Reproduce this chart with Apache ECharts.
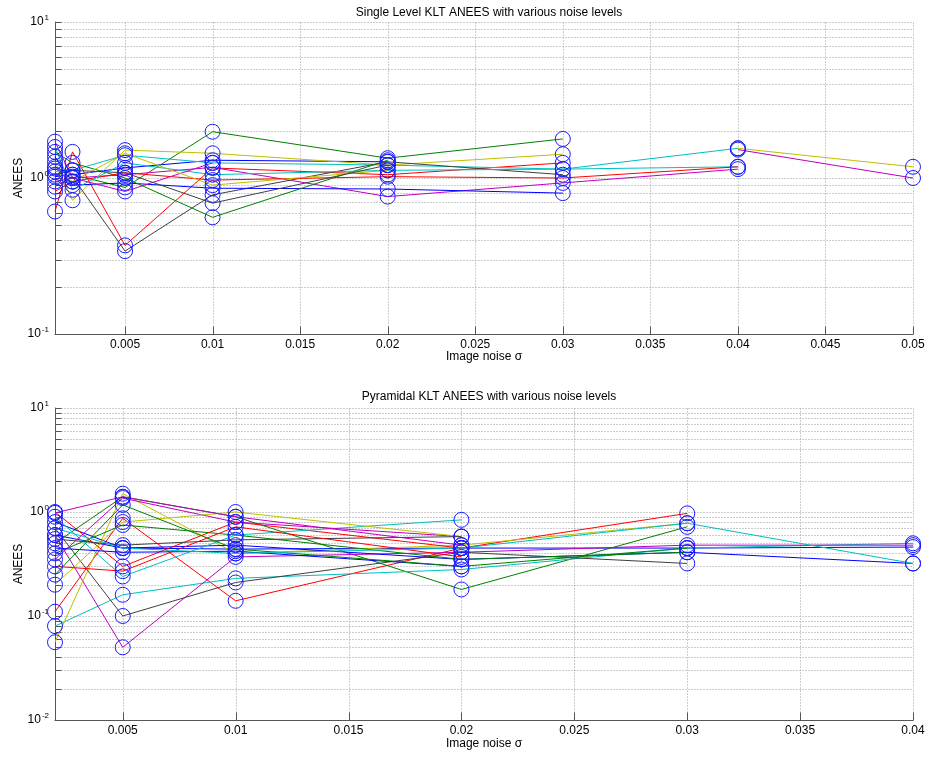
<!DOCTYPE html>
<html><head><meta charset="utf-8">
<script src="https://cdn.jsdelivr.net/npm/echarts@6/dist/echarts.min.js"></script>
<style>html,body{margin:0;padding:0;background:#fff}#c{width:929px;height:757px}</style>
</head><body><div id="c"></div>
<script>
// ---------- DATA ----------
const topTitle = 'Single Level KLT ANEES with various noise levels';
const bottomTitle = 'Pyramidal KLT ANEES with various noise levels';
const xName = 'Image noise \u03c3';
const yName = 'ANEES';

const topNoise = [0.001, 0.002, 0.005, 0.01, 0.02, 0.03, 0.04, 0.05];
const topXTicks = [0.005, 0.01, 0.015, 0.02, 0.025, 0.03, 0.035, 0.04, 0.045, 0.05];
const topYTicks = [0.1, 1, 10];

const top01 = [1.02, 1.05, 1.16, 1.30, 1.27];
const top02 = [1.18, 1.05, 0.87, 1.98, 1.34, 1.78];
const top03 = [0.61, 1.47, 0.37, 1.16, 1.05, 1.25];
const top04 = [1.10, 1.12, 1.40, 1.25, 1.21, 1.14, 1.18];
const top05 = [0.95, 1.00, 1.05, 1.17, 0.76, 0.93, 1.14];
const top06 = [1.27, 0.72, 1.51, 1.44, 1.21, 1.42];
const top07 = [0.88, 1.02, 0.34, 0.78, 1.27, 1.05];
const top08 = [1.37, 0.90, 0.93, 0.86, 0.85, 0.80];
const top09 = [1.47, 1.25, 1.00, 0.56, 1.30];
const top10 = [0.82, 0.95, 1.08, 0.97, 1.02, 1.00, 1.18];
const top11 = [1.58, 0.84, 1.25, 1.05, 1.12, 1.14, 1.55];
const top12 = [1.71, 1.00, 0.82, 1.25];
const top13 = [1.15, 0.95, 1.44, 0.90, 1.12];
const top14 = [1.05, 1.12, 1.08, 0.69, 1.21];
const top15 = [null, null, null, null, null, null, 1.55, 1.18];
const top16 = [null, null, null, null, null, null, 1.52, 1.00];
const topRuns = [top01, top02, top03, top04, top05, top06, top07, top08,
                 top09, top10, top11, top12, top13, top14, top15, top16];

const botNoise = [0.002, 0.005, 0.01, 0.02, 0.03, 0.04];
const botXTicks = [0.005, 0.01, 0.015, 0.02, 0.025, 0.03, 0.035, 0.04];
const botYTicks = [0.01, 0.1, 1, 10];

const bot01 = [0.60, 0.45, 0.44, 0.45, 0.45, 0.46];
const bot02 = [0.50, 1.40, 0.90, 0.18, 0.72];
const bot03 = [0.11, 0.87, 0.14, 0.45, 0.97];
const bot04 = [0.08, 0.16, 0.23, 0.28, 0.45, 0.50];
const bot05 = [0.60, 0.05, 0.37, 0.41, 0.48, 0.48];
const bot06 = [0.056, 1.50, 0.40, 0.48, 0.78];
const bot07 = [0.70, 0.10, 0.21, 0.41, 0.32];
const bot08 = [0.80, 0.45, 0.48, 0.35, 0.41, 0.32];
const bot09 = [0.40, 0.75, 0.60, 0.35, 0.41];
const bot10 = [1.00, 0.30, 0.80, 0.45];
const bot11 = [0.90, 0.24, 0.60, 0.84];
const bot12 = [0.35, 1.36, 0.80, 0.58];
const bot13 = [0.20, 0.80, 1.00, 0.58];
const bot14 = [0.55, 0.48, 0.54, 0.58];
const bot15 = [0.45, 0.41, 0.42, 0.30];
const bot16 = [0.25, 1.17, 0.44, 0.30, 0.45];
const bot17 = [0.30, 0.27, 0.72, 0.37];
const bot18 = [0.70, 0.45, 0.40, 0.45, 0.78, 0.32];
const bot19 = [0.98, 1.40, 0.90, 0.48];
const botRuns = [bot01, bot02, bot03, bot04, bot05, bot06, bot07, bot08, bot09, bot10,
                 bot11, bot12, bot13, bot14, bot15, bot16, bot17, bot18, bot19];

// ---------- STYLE ----------
const FONT = '"Liberation Sans", Arial, Helvetica, sans-serif';
const matlabColors = {b:'#0000ff', g:'#008000', r:'#ff0000', c:'#00bfbf', m:'#bf00bf', y:'#bfbf00', k:'#404040'};
const cycle = ['b','g','r','c','m','y','k'];
const topColorKeys = topRuns.map((_, i) => cycle[i % 7]);
topColorKeys[14] = 'y'; topColorKeys[15] = 'm';
const botColorKeys = botRuns.map((_, i) => cycle[i % 7]);

const GRID_COLOR = '#9a9a9a';
const AXIS_COLOR = '#555';

function logGridValues(lo, hi) {
  const out = [];
  for (let e = Math.round(Math.log10(lo)); e < Math.round(Math.log10(hi)); e++) {
    for (let m = 1; m <= 9; m++) out.push([m * Math.pow(10, e), m === 1 ? 1 : 0]);
  }
  out.push([hi, 1]);
  return out;
}

function gridSeries(gi, xTicks, xMin, yMin, yMax) {
  const data = [];
  xTicks.forEach(v => data.push([v, yMin, 0, 1]));
  logGridValues(yMin, yMax).forEach(([v, major]) => data.push([xMin, v, 1, major]));
  return {
    type: 'custom', xAxisIndex: gi, yAxisIndex: gi, silent: true, z: 1, clip: false,
    data: data,
    renderItem(params, api) {
      const cs = params.coordSys;
      const kind = api.value(2);
      const p = api.coord([api.value(0), api.value(1)]);
      const ch = [];
      const left = Math.round(cs.x) + 0.5, right = Math.round(cs.x + cs.width) + 0.5;
      const top = Math.round(cs.y) + 0.5, bottom = Math.round(cs.y + cs.height) + 0.5;
      if (kind === 0) {
        const x = Math.round(p[0]) + 0.5;
        ch.push({type:'line', shape:{x1:x, y1:top, x2:x, y2:bottom}, style:{stroke:GRID_COLOR, lineWidth:1, lineDash:[1,2]}});
        ch.push({type:'line', shape:{x1:x, y1:bottom, x2:x, y2:bottom - 8}, style:{stroke:AXIS_COLOR, lineWidth:1}});
      } else {
        const y = Math.round(p[1]) + 0.5;
        if (Math.abs(y - bottom) > 1) {
          ch.push({type:'line', shape:{x1:left, y1:y, x2:right, y2:y}, style:{stroke:GRID_COLOR, lineWidth:1, lineDash:[1,2]}});
        }
        ch.push({type:'line', shape:{x1:left, y1:y, x2:left + 6, y2:y}, style:{stroke:AXIS_COLOR, lineWidth:1}});
      }
      return {type:'group', children: ch};
    }
  };
}

function runSeries(gi, noise, runs, keys) {
  return runs.map((run, i) => ({
    type: 'line', xAxisIndex: gi, yAxisIndex: gi, z: 3,
    data: run.map((v, j) => [noise[j], v]).filter(d => d[1] !== null),
    symbol: 'circle', symbolSize: 15, showAllSymbol: true,
    itemStyle: {color: 'rgba(0,0,0,0)', borderColor: '#1a1aff', borderWidth: 1},
    lineStyle: {color: matlabColors[keys[i]], width: 1},
    emphasis: {disabled: true}, silent: true
  }));
}

function xAxisDef(gi, min, max, ticks, gap) {
  return {
    type: 'value', gridIndex: gi, min: min, max: max,
    axisLine: {show: true, lineStyle: {color: AXIS_COLOR, width: 1}},
    axisTick: {show: false}, splitLine: {show: false},
    axisLabel: {customValues: ticks, formatter: v => String(+v.toFixed(4)), color: '#000', fontSize: 12, fontFamily: FONT, margin: 5},
    name: xName, nameLocation: 'middle', nameGap: gap, nameMoveOverlap: false,
    nameTextStyle: {color: '#000', fontSize: 12, fontFamily: FONT}
  };
}

function yAxisDef(gi, min, max, ticks) {
  return {
    type: 'log', logBase: 10, gridIndex: gi, min: min, max: max,
    axisLine: {show: true, lineStyle: {color: AXIS_COLOR, width: 1}},
    axisTick: {show: false}, splitLine: {show: false}, minorTick: {show: false},
    axisLabel: {
      customValues: ticks,
      formatter: v => '{a|10}{b|' + Math.round(Math.log10(v)) + '}',
      margin: 6,
      rich: {
        a: {fontSize: 12, color: '#000', fontFamily: FONT, lineHeight: 16, verticalAlign: 'middle'},
        b: {fontSize: 8, color: '#000', fontFamily: FONT, lineHeight: 16, verticalAlign: 'top', padding: [0, 0, 0, 1]}
      }
    },
    name: yName, nameLocation: 'middle', nameGap: 30, nameRotate: 90, nameMoveOverlap: false,
    nameTextStyle: {color: '#000', fontSize: 12, fontFamily: FONT}
  };
}

const option = {
  animation: false,
  backgroundColor: '#fff',
  title: [
    {text: topTitle, left: 484, top: 2, textAlign: 'center',
     textStyle: {fontSize: 12, fontWeight: 'normal', color: '#000', fontFamily: FONT}},
    {text: bottomTitle, left: 484, top: 386, textAlign: 'center',
     textStyle: {fontSize: 12, fontWeight: 'normal', color: '#000', fontFamily: FONT}}
  ],
  grid: [
    {left: 55, right: 16, top: 22, height: 312},
    {left: 55, right: 16, top: 408, height: 312}
  ],
  xAxis: [
    xAxisDef(0, topNoise[0], topNoise[topNoise.length - 1], topXTicks, 17),
    xAxisDef(1, botNoise[0], botNoise[botNoise.length - 1], botXTicks, 18)
  ],
  yAxis: [
    yAxisDef(0, topYTicks[0], topYTicks[topYTicks.length - 1], topYTicks),
    yAxisDef(1, botYTicks[0], botYTicks[botYTicks.length - 1], botYTicks)
  ],
  series: [
    gridSeries(0, topXTicks, topNoise[0], topYTicks[0], topYTicks[topYTicks.length - 1]),
    gridSeries(1, botXTicks, botNoise[0], botYTicks[0], botYTicks[botYTicks.length - 1]),
    ...runSeries(0, topNoise, topRuns, topColorKeys),
    ...runSeries(1, botNoise, botRuns, botColorKeys)
  ]
};

const chart = echarts.init(document.getElementById('c'), null, {renderer: 'canvas'});
chart.setOption(option);
</script>
</body></html>
